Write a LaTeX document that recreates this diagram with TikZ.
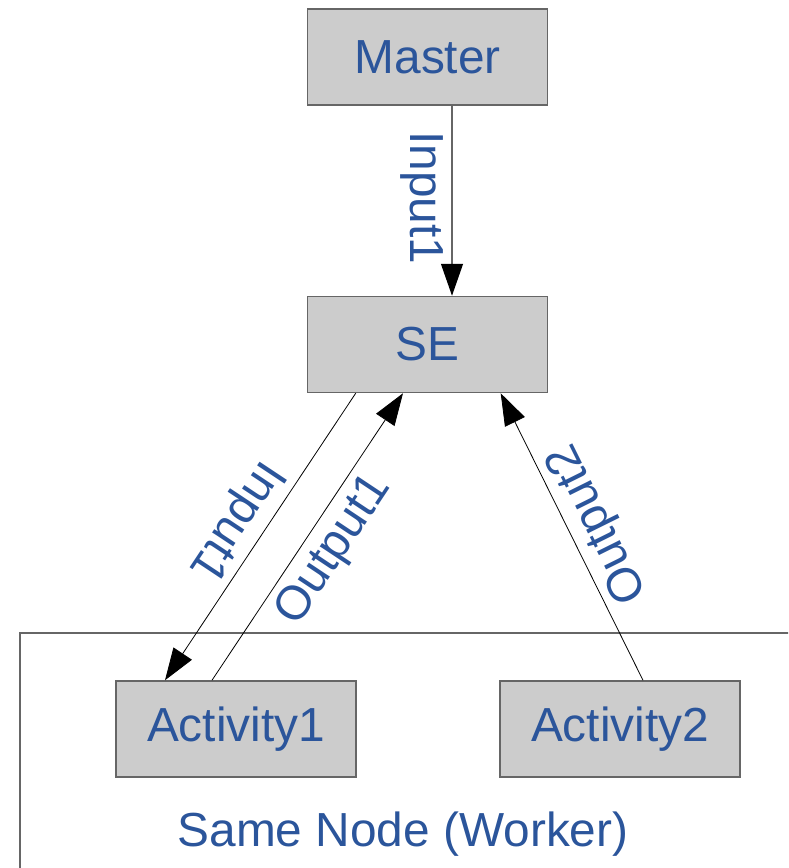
\documentclass[tikz,border=0pt]{standalone}
\usepackage{fontspec}
\setmainfont{Liberation Sans}
\usetikzlibrary{arrows.meta}
\definecolor{txtblue}{HTML}{2B559B}
\definecolor{boxfill}{HTML}{CCCCCC}
\definecolor{boxline}{HTML}{666666}
\begin{document}
\begin{tikzpicture}[x=1pt,y=-1pt,
  every node/.style={font=\fontsize{47.8}{52}\selectfont, text=txtblue},
  block/.style={draw=boxline, line width=1.5pt, fill=boxfill,
    minimum width=240pt, minimum height=96pt, inner sep=0pt},
  flow/.style={draw=black, line width=0.8pt,
    -{Triangle[length=32pt,width=22pt,color=black]}},
  lbl/.style={sloped, allow upside down, anchor=north, inner sep=8pt}]
\useasboundingbox (0,0) rectangle (788,868);
\begin{scope}
\clip (0,0) rectangle (788,868);
% worker container, running off the bottom and right edges
\draw[boxline, line width=1.5pt] (20,633) rectangle (820,900);
\end{scope}
\node[block] (master) at (427.7,56.8) {Master};
\node[block] (se) at (427.7,344.5) {SE};
\node[block] (act1) at (236,729) {Activity1};
\node[block] (act2) at (620,729) {Activity2};
\node (worker) at (403,834) {Same Node (Worker)};
% messages
\draw[flow, draw=boxline, line width=1.3pt] ([xshift=24.3pt]master.south) -- node[lbl, pos=0.486] {Input1} ([xshift=24.3pt]se.north);
\draw[flow] ([xshift=-72pt]se.south) -- node[lbl, pos=0.5] {Input1} ([xshift=-71pt]act1.north);
\draw[flow] ([xshift=-24pt]act1.north) -- node[lbl, pos=0.51] {Output1} ([xshift=-24.7pt]se.south);
\draw[flow] ([xshift=23pt]act2.north) -- node[lbl, pos=0.5] {Output2} ([xshift=73pt]se.south);
\end{tikzpicture}
\end{document}
